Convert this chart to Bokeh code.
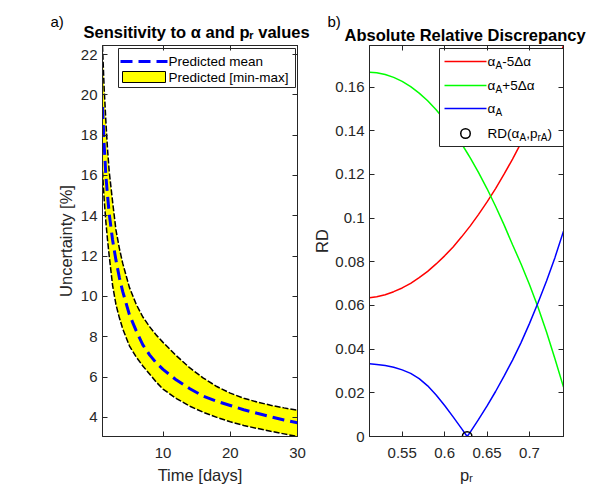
from bokeh.plotting import figure
from bokeh.layouts import row
from bokeh.models import LinearAxis, FixedTicker, Range1d, Title
from bokeh.embed import file_html
from bokeh.resources import INLINE
from bokeh.core.properties import value

# ---------------- data ----------------
time_days = [1, 1.25, 1.5, 1.75, 2, 2.5, 3, 3.5, 4, 5, 6, 7, 8, 9, 10,
             12, 14, 16, 18, 20, 22, 24, 26, 28, 30]
unc_max = [22.44, 20.3, 18.7, 17.3, 16.2, 14.7, 13.3, 12.4, 11.65, 10.45, 9.62,
           8.98, 8.5, 8.08, 7.72, 7.05, 6.45, 5.95, 5.53, 5.2, 4.95, 4.76, 4.6, 4.47, 4.35]
unc_mean = [19.4, 17.5, 16.0, 15.0, 14.1, 12.8, 11.8, 10.95, 10.25, 9.1, 8.3,
            7.6, 7.1, 6.7, 6.38, 5.85, 5.42, 5.05, 4.8, 4.59, 4.38, 4.2, 4.03, 3.87, 3.73]
unc_min = [16.2, 14.8, 13.7, 12.8, 12.0, 10.55, 9.6, 8.95, 8.4, 7.55, 7.0,
           6.55, 6.15, 5.75, 5.4, 4.93, 4.55, 4.25, 4.0, 3.78, 3.6, 3.45, 3.31, 3.18, 3.05]
time_ticks = [10, 20, 30]
unc_ticks = [4, 6, 8, 10, 12, 14, 16, 18, 20, 22]

p_r = [0.5115, 0.52, 0.53, 0.54, 0.55, 0.56, 0.57, 0.58, 0.59, 0.60, 0.61, 0.62,
       0.6265, 0.63, 0.64, 0.65, 0.66, 0.67, 0.68, 0.69, 0.70, 0.71, 0.72, 0.73, 0.74]
rd_alpha_minus = [0.0635, 0.0640, 0.0649, 0.0663, 0.0680, 0.0701, 0.0727, 0.0756, 0.0790,
                  0.0827, 0.0868, 0.0914, 0.0946, 0.0963, 0.1017, 0.1074, 0.1135, 0.1201,
                  0.1270, 0.1344, 0.1421, 0.1502, 0.1588, 0.1680, 0.1790]
rd_alpha_plus = [0.1667, 0.1665, 0.1657, 0.1644, 0.1626, 0.1602, 0.1572, 0.1537, 0.1496,
                 0.1449, 0.1397, 0.1340, 0.1299, 0.1277, 0.1208, 0.1134, 0.1054, 0.0969,
                 0.0878, 0.0790, 0.0695, 0.0592, 0.0478, 0.0355, 0.0226]
rd_alpha_nom = [0.0333, 0.0330, 0.0325, 0.0317, 0.0305, 0.0289, 0.0265, 0.0232, 0.0190,
                0.0142, 0.0090, 0.0036, 0.0, 0.0019, 0.0078, 0.0140, 0.0206, 0.0276,
                0.0350, 0.0430, 0.0518, 0.0612, 0.0712, 0.0820, 0.0940]
p_r_opt = [0.6265]
rd_opt = [0.0]
pr_ticks = [0.55, 0.6, 0.65, 0.7]
pr_tick_labels = ["0.55", "0.6", "0.65", "0.7"]
rd_ticks = [0, 0.02, 0.04, 0.06, 0.08, 0.1, 0.12, 0.14, 0.16]
rd_tick_labels = ["0", "0.02", "0.04", "0.06", "0.08", "0.1", "0.12", "0.14", "0.16"]

# ---------------- styling ----------------
FONT = "Liberation Sans"
AX = "#262626"
FH = 391
FW1, FW2 = 195, 194
TICK_FS = "15px"
LAB_FS = "16.5px"
LEG_FS = "13.5px"
TOP, BOTTOM = 45, 67


def style_axis(ax, ticks, labels=None, show=True, standoff=6):
    ax.ticker = FixedTicker(ticks=ticks)
    if labels is not None:
        ax.major_label_overrides = {t: l for t, l in zip(ticks, labels)}
    ax.major_tick_in = 5
    ax.major_tick_out = 0
    ax.minor_tick_line_color = None
    ax.axis_line_color = AX
    ax.major_tick_line_color = AX
    ax.major_label_text_font = FONT
    if show:
        ax.major_label_text_color = AX
        ax.major_label_text_font_size = TICK_FS
        ax.major_label_standoff = standoff
    else:
        ax.major_label_text_color = None
        ax.major_label_text_font_size = "1px"
        ax.major_label_standoff = 0
    ax.axis_label_text_font = FONT
    ax.axis_label_text_font_size = LAB_FS
    ax.axis_label_text_font_style = "normal"
    ax.axis_label_text_color = AX


def make_fig(xr, yr, fw, mb_left, mb_right):
    p = figure(frame_width=fw, frame_height=FH, x_range=xr, y_range=yr,
               output_backend="svg", toolbar_location=None, title=None,
               min_border_left=mb_left, min_border_right=mb_right,
               min_border_top=TOP, min_border_bottom=BOTTOM,
               background_fill_color="white", border_fill_color="white",
               outline_line_color=AX)
    p.grid.visible = False
    return p


def box_axes(p, xt, yt):
    top = LinearAxis()
    right = LinearAxis()
    p.add_layout(top, "above")
    p.add_layout(right, "right")
    style_axis(top, xt, show=False)
    style_axis(right, yt, show=False)


def add_titles(p, main, main_offset, main_standoff, tag, tag_offset, tag_standoff):
    p.add_layout(Title(text=main, text_font=FONT, text_font_size="16.5px",
                       text_font_style="bold", text_color="black", align="left",
                       offset=main_offset, standoff=main_standoff), "above")
    p.add_layout(Title(text=tag, text_font=FONT, text_font_size="15px",
                       text_font_style="normal", text_color="black", align="left",
                       offset=tag_offset, standoff=tag_standoff), "above")


def to_data(rng, off, span, flip=False):
    d = (rng.end - rng.start) * off / span
    return rng.end - d if flip else rng.start + d


# ---------------- panel a ----------------
xr1 = Range1d(1, 30)
yr1 = Range1d(3.05, 22.45)
p1 = make_fig(xr1, yr1, FW1, 102, 13)

style_axis(p1.xaxis[0], time_ticks, standoff=11)
style_axis(p1.yaxis[0], unc_ticks, standoff=5)
p1.xaxis[0].axis_label = "Time [days]"
p1.xaxis[0].axis_label_standoff = 5
p1.yaxis[0].axis_label = "Uncertainty [%]"
p1.yaxis[0].axis_label_standoff = 3
box_axes(p1, time_ticks, unc_ticks)
add_titles(p1, "Sensitivity to α and pᵣ values", -19, 9, "a)", -52, -26)

p1.varea(x=time_days, y1=unc_min, y2=unc_max, fill_color="#FFFF00")
p1.line(time_days, unc_max, line_color="black", line_width=1.5, line_dash="6 2")
p1.line(time_days, unc_min, line_color="black", line_width=1.5, line_dash="6 2")
p1.line(time_days, unc_mean, line_color="#0000FF", line_width=3, line_dash="12 6")

# legend a (manual, offsets in px from frame top-left)
X1 = lambda o: to_data(xr1, o, FW1)
Y1 = lambda o: to_data(yr1, o, FH, flip=True)
p1.quad(left=[X1(16)], right=[X1(193)], top=[Y1(3)], bottom=[Y1(42)],
        fill_color="white", line_color=AX, line_width=1)
p1.line([X1(18), X1(65)], [Y1(16), Y1(16)], line_color="#0000FF", line_width=3,
        line_dash="12 6")
p1.quad(left=[X1(20)], right=[X1(63)], top=[Y1(26)], bottom=[Y1(37)],
        fill_color="#FFFF00", line_color="black", line_width=1)
p1.text(x=[X1(66), X1(66)], y=[Y1(16), Y1(32)],
        text=["Predicted mean", "Predicted [min-max]"],
        text_font=value(FONT), text_font_size=LEG_FS, text_baseline="middle",
        text_align="left", text_color="black")

# ---------------- panel b ----------------
xr2 = Range1d(0.5115, 0.74)
yr2 = Range1d(0, 0.179)
p2 = make_fig(xr2, yr2, FW2, 59, 32)

style_axis(p2.xaxis[0], pr_ticks, pr_tick_labels, standoff=11)
style_axis(p2.yaxis[0], rd_ticks, rd_tick_labels, standoff=5)
p2.xaxis[0].axis_label = "pᵣ"
p2.xaxis[0].axis_label_standoff = 5
p2.yaxis[0].axis_label = "RD"
p2.yaxis[0].axis_label_standoff = 1
box_axes(p2, pr_ticks, rd_ticks)
add_titles(p2, "Absolute Relative Discrepancy", -25, 3, "b)", -42, -15)

p2.line(p_r, rd_alpha_minus, line_color="#FF0000", line_width=1.5)
p2.line(p_r, rd_alpha_plus, line_color="#00FF00", line_width=1.5)
p2.line(p_r, rd_alpha_nom, line_color="#0000FF", line_width=1.5)
p2.scatter(p_r_opt, rd_opt, marker="circle", size=9.5, fill_color=None,
           line_color="black", line_width=1.5)

# legend b (manual, with subscripts)
X2 = lambda o: to_data(xr2, o, FW2)
Y2 = lambda o: to_data(yr2, o, FH, flip=True)
p2.quad(left=[X2(70)], right=[X2(194)], top=[Y2(3)], bottom=[Y2(101)],
        fill_color="white", line_color=AX, line_width=1)
leg_rows = [(16, "#FF0000"), (40, "#00FF00"), (63, "#0000FF")]
for yo, col in leg_rows:
    p2.line([X2(75), X2(117)], [Y2(yo), Y2(yo)], line_color=col, line_width=1.5)
p2.scatter([X2(96)], [Y2(88)], marker="circle", size=9.5, fill_color=None,
           line_color="black", line_width=1.5)

EM = {"α": 0.6, "Δ": 0.668, "A": 0.667, "-": 0.333, "+": 0.584, "5": 0.556,
      "R": 0.722, "D": 0.722, "(": 0.333, ")": 0.333, ",": 0.278, "p": 0.556,
      "r": 0.333}
MAIN, SUB = 13.5, 10.0
entries = [
    (16, [("α", 0), ("A", 1), ("-5Δα", 0)]),
    (40, [("α", 0), ("A", 1), ("+5Δα", 0)]),
    (63, [("α", 0), ("A", 1)]),
    (88, [("RD(α", 0), ("A", 1), (",p", 0), ("rA", 1), (")", 0)]),
]
for yo, parts in entries:
    xo = 118
    for txt, sub in parts:
        fs = SUB if sub else MAIN
        p2.text(x=[X2(xo)], y=[Y2(yo + (4 if sub else 0))], text=[txt],
                text_font=value(FONT), text_font_size=f"{fs}px",
                text_baseline="middle", text_align="left", text_color="black")
        xo += sum(EM.get(c, 0.55) for c in txt) * fs

layout = row(p1, p2)
open("out.html", "w").write(file_html(layout, INLINE))
